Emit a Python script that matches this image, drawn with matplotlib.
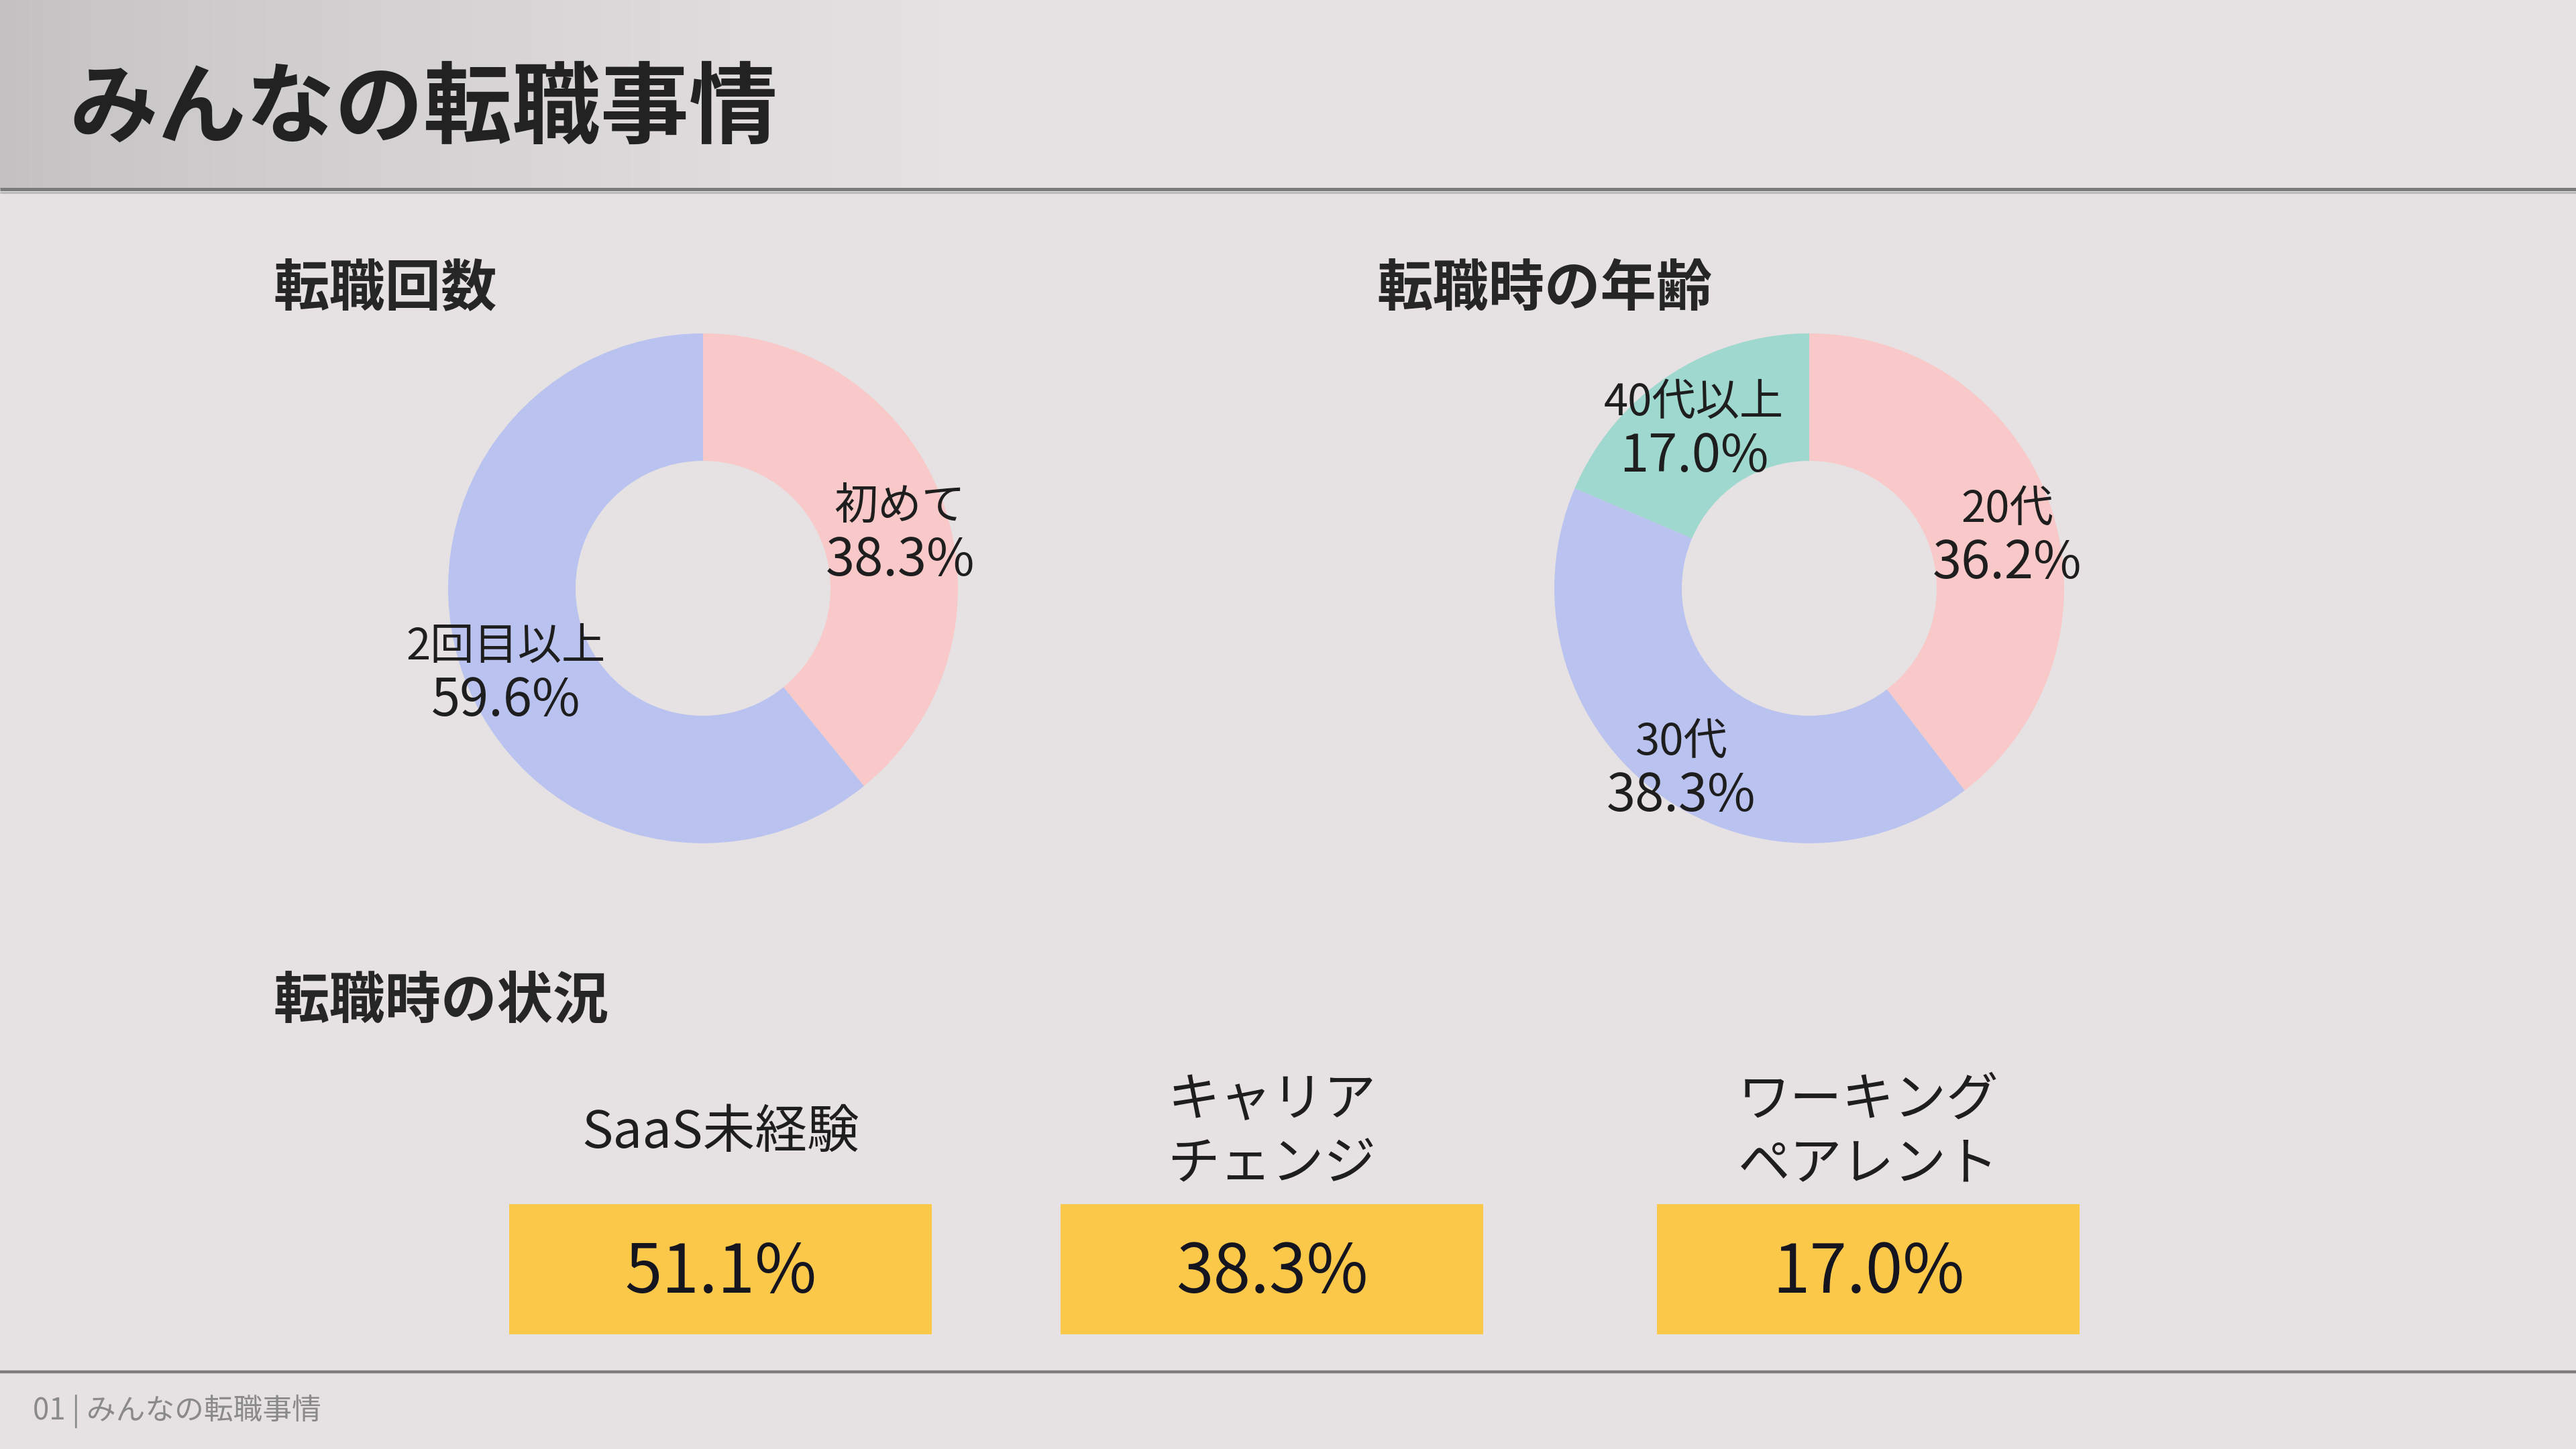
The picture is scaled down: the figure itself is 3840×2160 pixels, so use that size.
import numpy as np
import matplotlib
matplotlib.use("Agg")
import matplotlib.pyplot as plt
from matplotlib.patches import Rectangle
from matplotlib.colors import to_rgb

plt.rcParams['font.family'] = ['Noto Sans CJK JP', 'DejaVu Sans']

# ---------------- data ----------------
title = "みんなの転職事情"
footer = "01 | みんなの転職事情"

count_title = "転職回数"
count_labels = ["初めて", "2回目以上"]
count_values = [38.3, 59.6]

age_title = "転職時の年齢"
age_labels = ["20代", "30代", "40代以上"]
age_values = [36.2, 38.3, 17.0]

status_title = "転職時の状況"
status_labels = ["SaaS未経験", "キャリア\nチェンジ", "ワーキング\nペアレント"]
status_values = [51.1, 38.3, 17.0]

# ---------------- style ----------------
W, H = 3840, 2160
DPI = 100
BG = "#E6E2E3"
PINK = "#F8C9C8"
BLUE = "#BAC3F0"
TEAL = "#9ED8CE"
YELLOW = "#FCC84A"
TXT = "#1E1E1E"

fig = plt.figure(figsize=(W / DPI, H / DPI), dpi=DPI, facecolor=BG)

# layout axes in pixel coordinates
lay = fig.add_axes([0, 0, 1, 1])
lay.set_xlim(0, W)
lay.set_ylim(H, 0)
lay.axis('off')
lay.set_facecolor(BG)

# header gradient
grad_w = 1400
c0 = np.array(to_rgb("#C3C1C2"))
c1 = np.array(to_rgb(BG))
t = np.clip(np.linspace(0, 1, 400), 0, 1) ** 0.8
img = (c0[None, :] * (1 - t[:, None]) + c1[None, :] * t[:, None])[None, :, :]
lay.imshow(img, extent=[0, grad_w, 282, 0], aspect='auto', zorder=0, interpolation='bilinear')
lay.add_patch(Rectangle((grad_w, 0), W - grad_w, 282, color=BG, zorder=0))
lay.plot([0, W], [282, 282], color="#7A7A7A", lw=3.6, zorder=2, solid_capstyle='butt')
lay.plot([0, W], [287, 287], color="#B8B6B7", lw=2.0, zorder=1, solid_capstyle='butt')
lay.text(103, 164, title, fontsize=95, fontweight='bold', color="#222222", va='center', ha='left')

# footer
lay.plot([0, W], [2045, 2045], color="#7E7E7E", lw=3.2, zorder=2, solid_capstyle='butt')
lay.text(49, 2104, footer, fontsize=31.5, color="#8A8A8A", va='center', ha='left')

# section titles
lay.text(407, 431, count_title, fontsize=60, fontweight='bold', color="#262626", va='center', ha='left')
lay.text(2052, 431, age_title, fontsize=60, fontweight='bold', color="#262626", va='center', ha='left')
lay.text(407, 1494, status_title, fontsize=60, fontweight='bold', color="#262626", va='center', ha='left')


def donut(cx, cy, r, values, labels, colors):
    ax = fig.add_axes([(cx - r) / W, 1 - (cy + r) / H, 2 * r / W, 2 * r / H])
    wedges, _ = ax.pie(values, colors=colors, startangle=90, counterclock=False,
                       radius=1.0, wedgeprops=dict(width=0.5, edgecolor='none'))
    ax.set_xlim(-1, 1)
    ax.set_ylim(-1, 1)
    ax.set_aspect('equal')
    ax.axis('off')
    for w, lab, v in zip(wedges, labels, values):
        ang = np.deg2rad((w.theta1 + w.theta2) / 2)
        x, y = 0.82 * np.cos(ang), 0.82 * np.sin(ang)
        ax.annotate(lab, (x, y), xytext=(0, 12), textcoords='offset points',
                    ha='center', va='center', fontsize=47, color=TXT, annotation_clip=False)
        ax.annotate(f"{v:.1f}%", (x, y), xytext=(0, -46), textcoords='offset points',
                    ha='center', va='center', fontsize=56, color=TXT, annotation_clip=False)
    return ax


donut(1048, 877, 380, count_values, count_labels, [PINK, BLUE])
donut(2697, 877, 380, age_values, age_labels, [PINK, BLUE, TEAL])

# status boxes
box_cx = [1074, 1896, 2785]
box_w, box_h = 630, 194
box_top = 1795
for cx, lab, v in zip(box_cx, status_labels, status_values):
    lay.add_patch(Rectangle((cx - box_w / 2, box_top), box_w, box_h, facecolor=YELLOW,
                            edgecolor='none', zorder=3))
    lay.text(cx, 1898, f"{v:.1f}%", fontsize=72, color="#15151F", ha='center', va='center', zorder=4)
    lay.text(cx, 1689, lab, fontsize=56, color=TXT, ha='center', va='center',
             multialignment='center', linespacing=1.27, zorder=4)

fig.savefig("out.png", dpi=DPI, facecolor=BG)
